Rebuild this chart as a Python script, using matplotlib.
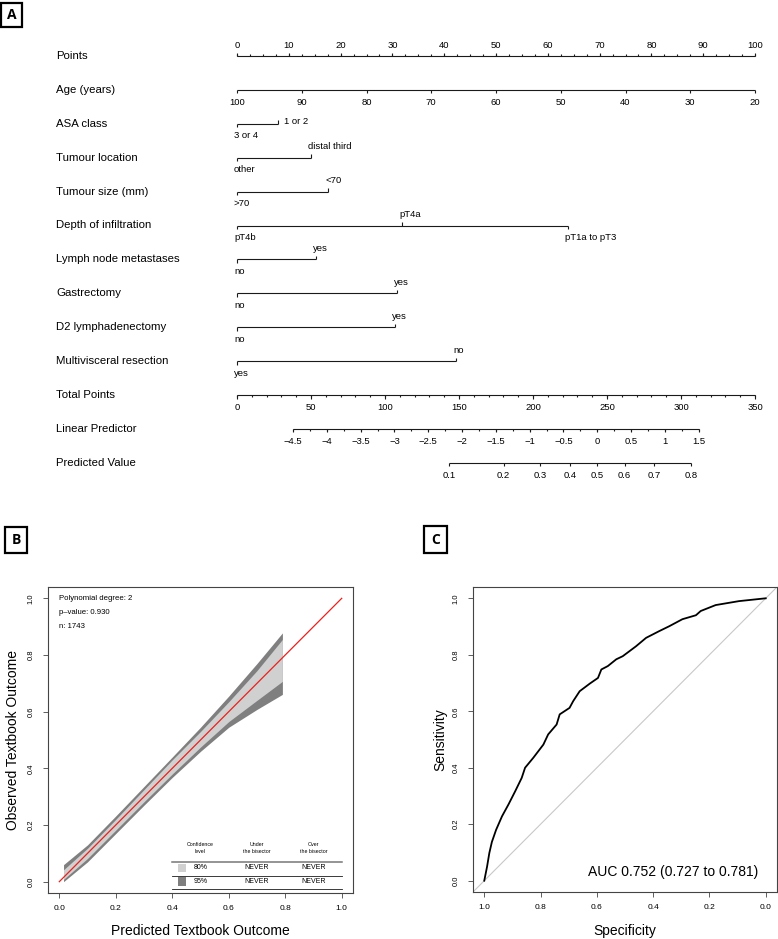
import numpy as np
import matplotlib.pyplot as plt
from matplotlib.patches import Rectangle

plt.rcParams['font.family'] = ['Liberation Sans', 'DejaVu Sans']

W, H = 778, 939

# ---- nomogram (panel A) ----
row_names = ["Points", "Age (years)", "ASA class", "Tumour location", "Tumour size (mm)",
             "Depth of infiltration", "Lymph node metastases", "Gastrectomy",
             "D2 lymphadenectomy", "Multivisceral resection", "Total Points",
             "Linear Predictor", "Predicted Value"]

points_ticks = [0, 10, 20, 30, 40, 50, 60, 70, 80, 90, 100]
age_ticks = [100, 90, 80, 70, 60, 50, 40, 30, 20]
age_zero_points = 100     # age that scores 0 points
age_full_points = 20      # age that scores 100 points

asa_levels = ["3 or 4", "1 or 2"]
asa_points = [0, 7.9]
location_levels = ["other", "distal third"]
location_points = [0, 14.3]
size_levels = [">70", "<70"]
size_points = [0, 17.6]
depth_levels = ["pT4b", "pT4a", "pT1a to pT3"]
depth_points = [0, 31.9, 63.9]
lymph_levels = ["no", "yes"]
lymph_points = [0, 15.2]
gastrectomy_levels = ["no", "yes"]
gastrectomy_points = [0, 30.9]
d2_levels = ["no", "yes"]
d2_points = [0, 30.5]
multivisceral_levels = ["yes", "no"]
multivisceral_points = [0, 42.3]

total_ticks = [0, 50, 100, 150, 200, 250, 300, 350]
TOTAL_MAX = 350
lp_ticks = [-4.5, -4, -3.5, -3, -2.5, -2, -1.5, -1, -0.5, 0, 0.5, 1, 1.5]
LP_INTERCEPT = -5.33      # linear predictor at 0 total points
LP_PER_POINT = 0.0219
pred_ticks = [0.1, 0.2, 0.3, 0.4, 0.5, 0.6, 0.7, 0.8]

# ---- calibration (panel B) ----
band_x = [0.015, 0.1, 0.2, 0.3, 0.4, 0.5, 0.6, 0.7, 0.79]
band_up95 = [0.060, 0.130, 0.232, 0.336, 0.440, 0.545, 0.655, 0.770, 0.878]
band_up80 = [0.042, 0.118, 0.220, 0.325, 0.430, 0.530, 0.635, 0.745, 0.855]
band_lo80 = [0.008, 0.082, 0.182, 0.282, 0.380, 0.475, 0.565, 0.640, 0.707]
band_lo95 = [0.000, 0.070, 0.170, 0.270, 0.368, 0.460, 0.545, 0.608, 0.661]
calib_stats = ["Polynomial degree: 2", "p\u2013value: 0.930", "n: 1743"]
conf_levels = ["80%", "95%"]
under_bisector = ["NEVER", "NEVER"]
over_bisector = ["NEVER", "NEVER"]

# ---- ROC (panel C) ----
roc_spec = [1.0, 0.99, 0.982, 0.973, 0.958, 0.937, 0.914, 0.89, 0.867, 0.855, 0.826,
            0.79, 0.773, 0.743, 0.732, 0.697, 0.684, 0.661, 0.625, 0.596, 0.584,
            0.561, 0.531, 0.508, 0.461, 0.425, 0.378, 0.343, 0.296, 0.248, 0.231,
            0.178, 0.095, 0.0]
roc_sens = [0.0, 0.05, 0.098, 0.137, 0.18, 0.228, 0.27, 0.317, 0.364, 0.40, 0.435,
            0.482, 0.518, 0.553, 0.589, 0.612, 0.636, 0.671, 0.698, 0.718, 0.748,
            0.76, 0.784, 0.795, 0.83, 0.86, 0.884, 0.901, 0.926, 0.94, 0.955,
            0.976, 0.99, 1.0]
auc_text = "AUC 0.752 (0.727 to 0.781)"

LINE = '#1a1a1a'
fig = plt.figure(figsize=(W / 100, H / 100), dpi=100)


def px(v):
    # horizontal pixels -> nomogram points units
    return v * 100 / 518


def minus(v):
    s = f"{v:g}"
    return s.replace('-', '\u2212')


def panel_label(letter, x0, y0, x1, y1):
    fig.add_artist(Rectangle((x0 / W, 1 - y1 / H), (x1 - x0) / W, (y1 - y0) / H,
                             transform=fig.transFigure, fill=False, lw=1.6, ec='black'))
    fig.text((x0 + x1) / 2 / W, 1 - (y0 + y1) / 2 / H, letter, ha='center', va='center',
             fontsize=10, fontweight='bold', family=['Open Sans', 'DejaVu Sans'])


# nomogram axes, y in pixel rows
axA = fig.add_axes([237 / W, 1 - 463 / H, 518 / W, (463 - 56) / H])
axA.set_xlim(0, 100)
axA.set_ylim(463, 56)
axA.axis('off')
row_y = [56 + i * 33.9 for i in range(len(row_names))]
TICK, MINOR = 3.5, 1.8
TFS = 6.8

for name, y in zip(row_names, row_y):
    axA.text(px(56 - 237), y, name, ha='left', va='center', fontsize=8.2)


def hline(y, x0, x1):
    axA.plot([x0, x1], [y, y], color=LINE, lw=0.8, clip_on=False, solid_capstyle='butt')


def ticks(y, xs, sign, length):
    axA.vlines(xs, y, y + sign * length, color=LINE, lw=0.8, clip_on=False)


def numeric_scale(y, xs, labels, side, minor=None):
    sign = 1 if side == 'below' else -1
    hline(y, min(xs), max(xs))
    ticks(y, xs, sign, TICK)
    if minor is not None:
        ticks(y, minor, sign, MINOR)
    off = 12.5 if side == 'below' else -11
    for x, lab in zip(xs, labels):
        axA.text(x, y + off, lab, ha='center', va='center', fontsize=TFS)


def cat_scale(y, levels, pts, sides):
    hline(y, min(pts), max(pts))
    for lab, x, side in zip(levels, pts, sides):
        if side == 'right':
            ticks(y, [x], -1, TICK)
            axA.text(x + px(6), y - 2.5, lab, ha='left', va='center', fontsize=TFS)
            continue
        sign = 1 if side == 'below' else -1
        ticks(y, [x], sign, TICK)
        off = 12 if side == 'below' else -11
        axA.text(x - px(3), y + off, lab, ha='left', va='center', fontsize=TFS)


# Points
numeric_scale(row_y[0], points_ticks, [str(t) for t in points_ticks], 'above',
              minor=np.arange(0, 100.1, 2.5))
# Age
age_x = [(age_zero_points - a) / (age_zero_points - age_full_points) * 100 for a in age_ticks]
numeric_scale(row_y[1], age_x, [str(a) for a in age_ticks], 'below')
# categorical predictors
cat_scale(row_y[2], asa_levels, asa_points, ['below', 'right'])
cat_scale(row_y[3], location_levels, location_points, ['below', 'above'])
cat_scale(row_y[4], size_levels, size_points, ['below', 'above'])
cat_scale(row_y[5], depth_levels, depth_points, ['below', 'above', 'below'])
cat_scale(row_y[6], lymph_levels, lymph_points, ['below', 'above'])
cat_scale(row_y[7], gastrectomy_levels, gastrectomy_points, ['below', 'above'])
cat_scale(row_y[8], d2_levels, d2_points, ['below', 'above'])
cat_scale(row_y[9], multivisceral_levels, multivisceral_points, ['below', 'above'])
# Total points
tp_x = [t * 100 / TOTAL_MAX for t in total_ticks]
numeric_scale(row_y[10], tp_x, [str(t) for t in total_ticks], 'below',
              minor=np.arange(0, TOTAL_MAX + 1, 10) * 100 / TOTAL_MAX)


def lp_to_x(lp):
    return (np.asarray(lp) - LP_INTERCEPT) / LP_PER_POINT * 100 / TOTAL_MAX


numeric_scale(row_y[11], list(lp_to_x(lp_ticks)), [minus(v) for v in lp_ticks], 'below',
              minor=lp_to_x(np.arange(lp_ticks[0], lp_ticks[-1] + 0.01, 0.25)))
pred_lp = np.log(np.array(pred_ticks) / (1 - np.array(pred_ticks)))
numeric_scale(row_y[12], list(lp_to_x(pred_lp)), [f"{p:g}" for p in pred_ticks], 'below')

panel_label('A', 1, 3, 22, 27)
panel_label('B', 5, 527, 27, 553)
panel_label('C', 424, 526, 447, 553)


def r_axes(ax):
    for s in ax.spines.values():
        s.set_color('#444444')
        s.set_linewidth(0.8)
    ticks_ = [0, 0.2, 0.4, 0.6, 0.8, 1.0]
    ax.set_xticks(ticks_)
    ax.set_yticks(ticks_)
    ax.set_xticklabels([f"{t:.1f}" for t in ticks_])
    ax.set_yticklabels([f"{t:.1f}" for t in ticks_])
    ax.tick_params(direction='out', length=3.5, width=0.6, color='#444444')
    ax.tick_params(axis='x', labelsize=6, pad=5)
    ax.tick_params(axis='y', labelsize=5.5, pad=6)
    plt.setp(ax.get_yticklabels(), rotation=90, va='center')


# ---- panel B ----
axB = fig.add_axes([48 / W, 1 - 893 / H, 305 / W, 306 / H])
axB.set_xlim(-0.04, 1.04)
axB.set_ylim(-0.04, 1.04)
r_axes(axB)
DARK, LIGHT = '#7f7f7f', '#d0d0d0'
axB.fill_between(band_x, band_lo95, band_up95, color=DARK, lw=0)
axB.fill_between(band_x, band_lo80, band_up80, color=LIGHT, lw=0)
axB.plot([0, 1], [0, 1], color='#e8211d', lw=0.9)
for i, s in enumerate(calib_stats):
    axB.text(0.0, 1.0 - i * 0.05, s, ha='left', va='center', fontsize=5.6)

# confidence table
axB.text(0.50, 0.118, "Confidence\nlevel", ha='center', va='center', fontsize=3.8, linespacing=1.4)
axB.text(0.70, 0.118, "Under\nthe bisector", ha='center', va='center', fontsize=3.8, linespacing=1.4)
axB.text(0.90, 0.118, "Over\nthe bisector", ha='center', va='center', fontsize=3.8, linespacing=1.4)
axB.plot([0.40, 1.0], [0.071, 0.071], color='#777777', lw=1.1)
axB.plot([0.40, 1.0], [0.021, 0.021], color=LINE, lw=0.6)
axB.plot([0.40, 1.0], [-0.025, -0.025], color=LINE, lw=0.6)
for i, (lev, un, ov, col) in enumerate(zip(conf_levels, under_bisector, over_bisector, [LIGHT, DARK])):
    yc = 0.049 - i * 0.049
    axB.add_patch(Rectangle((0.42, yc - 0.015), 0.03, 0.030, color=col, lw=0))
    axB.text(0.477, yc, lev, ha='left', va='center', fontsize=5)
    axB.text(0.70, yc, un, ha='center', va='center', fontsize=5)
    axB.text(0.90, yc, ov, ha='center', va='center', fontsize=5)

fig.text(13 / W, 1 - 740 / H, "Observed Textbook Outcome", rotation=90, ha='center', va='center', fontsize=10)
fig.text(200 / W, 1 - 931 / H, "Predicted Textbook Outcome", ha='center', va='center', fontsize=10)

# ---- panel C ----
axC = fig.add_axes([473 / W, 1 - 892 / H, 304 / W, 305 / H])
axC.set_xlim(1.04, -0.04)
axC.set_ylim(-0.04, 1.04)
r_axes(axC)
axC.axline((1, 0), (0, 1), color='#c8c8c8', lw=0.8)
axC.plot(roc_spec, roc_sens, color='black', lw=1.3)
axC.text(0.025, 0.03, auc_text, ha='right', va='center', fontsize=10)
fig.text(440 / W, 1 - 740 / H, "Sensitivity", rotation=90, ha='center', va='center', fontsize=10)
fig.text(625 / W, 1 - 931 / H, "Specificity", ha='center', va='center', fontsize=10)

fig.savefig('out.png', dpi=100)
